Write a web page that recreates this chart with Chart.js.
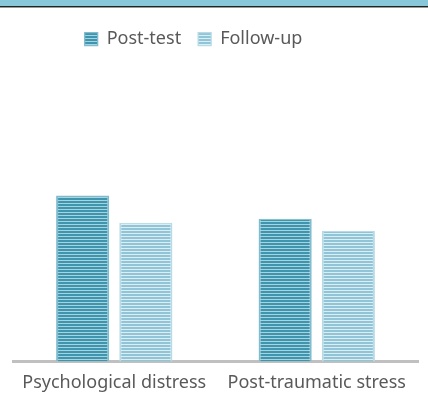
<!DOCTYPE html>
<html>
<head>
<meta charset="utf-8">
<script src="https://cdn.jsdelivr.net/npm/chart.js@4"></script>
<style>
  html, body { margin: 0; padding: 0; background: #fff; }
  #band { position: absolute; left: 0; top: 0; width: 428px; height: 6px; background: #87c7d9; border-bottom: 1px solid #222; box-shadow: 0 1px 0 #999; }
  #wrap { position: absolute; left: 0; top: 0; width: 428px; height: 402px; }
</style>
</head>
<body>
<div id="wrap"><canvas id="chart" width="428" height="402"></canvas></div>
<div id="band"></div>
<script>
// values (no axis shown, scale is relative)
const categories = ["Psychological distress", "Post-traumatic stress"];
const postTest = [16.4, 14.1];
const followUp = [13.7, 12.9];

// horizontal stripe fill like the original
function stripes(dark, light) {
  const c = document.createElement("canvas");
  c.width = 4;
  c.height = 3;
  const g = c.getContext("2d");
  g.fillStyle = light;
  g.fillRect(0, 0, 4, 3);
  g.fillStyle = dark;
  g.fillRect(0, 0, 4, 2);
  return g.createPattern(c, "repeat");
}

// legend in the original sits a bit left of centre
const shiftLegend = {
  id: "shiftLegend",
  afterLayout(chart) {
    chart.legend.left -= 22;
    chart.legend.right -= 22;
  },
};

const ctx = document.getElementById("chart").getContext("2d");

new Chart(ctx, {
  type: "bar",
  data: {
    labels: categories,
    datasets: [
      {
        label: "Post-test",
        data: postTest,
        backgroundColor: stripes("#3f95ad", "#a5d3e0"),
        borderColor: "#7fbccd",
        borderWidth: { left: 2, right: 2, top: 1, bottom: 0 },
        borderSkipped: false,
      },
      {
        label: "Follow-up",
        data: followUp,
        backgroundColor: stripes("#8fc5d7", "#dcedf3"),
        borderColor: "#b7dbe6",
        borderWidth: { left: 2, right: 2, top: 1, bottom: 0 },
        borderSkipped: false,
      },
    ],
  },
  plugins: [shiftLegend],
  options: {
    responsive: false,
    animation: false,
    categoryPercentage: 0.624,
    barPercentage: 0.841,
    layout: { padding: { top: 13, left: 13, right: 10, bottom: 5 } },
    plugins: {
      tooltip: { enabled: false },
      legend: {
        position: "top",
        labels: {
          boxWidth: 13,
          boxHeight: 13,
          padding: 17,
          color: "#595959",
          font: { family: "Noto Sans", size: 18 },
        },
      },
    },
    scales: {
      y: { display: false, min: 0, max: 30 },
      x: {
        grid: { display: false },
        border: { color: "#c0c0c0", width: 3 },
        ticks: {
          color: "#595959",
          padding: 3,
          font: { family: "Noto Sans", size: 18 },
        },
      },
    },
  },
});
</script>
</body>
</html>
